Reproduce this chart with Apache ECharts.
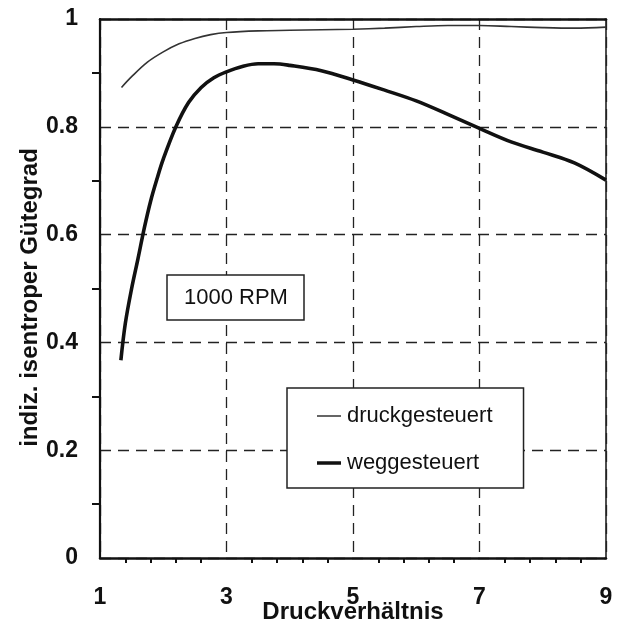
<!DOCTYPE html>
<html>
<head>
<meta charset="utf-8">
<script src="https://cdn.jsdelivr.net/npm/echarts@6/dist/echarts.min.js"></script>
<style>
html,body{margin:0;padding:0;background:#fff;overflow:hidden;}
#c{width:621px;height:633px;}
</style>
</head>
<body>
<div id="c"></div>
<script>
var druckX = [1.34, 1.5, 1.75, 2.0, 2.25, 2.5, 2.75, 3.0, 3.5, 4.0, 4.5, 5.0, 5.5, 6.0, 6.5, 7.0, 7.5, 8.0, 8.5, 9.0];
var druckY = [0.873, 0.893, 0.920, 0.939, 0.954, 0.964, 0.971, 0.975, 0.978, 0.979, 0.980, 0.981, 0.983, 0.986, 0.988, 0.988, 0.986, 0.984, 0.983, 0.985];
var wegX = [1.33, 1.4, 1.5, 1.6, 1.7, 1.8, 1.9, 2.0, 2.2, 2.4, 2.6, 2.8, 3.0, 3.25, 3.5, 3.75, 4.0, 4.5, 5.0, 5.5, 6.0, 6.5, 7.0, 7.5, 8.0, 8.5, 9.0];
var wegY = [0.367, 0.435, 0.50, 0.555, 0.612, 0.662, 0.703, 0.740, 0.800, 0.845, 0.873, 0.891, 0.902, 0.912, 0.917, 0.917, 0.914, 0.904, 0.887, 0.868, 0.848, 0.823, 0.797, 0.772, 0.753, 0.733, 0.701];
var seriesNames = ['druckgesteuert', 'weggesteuert'];
var xTicks = [1, 3, 5, 7, 9];
var yTicks = [0, 0.2, 0.4, 0.6, 0.8, 1];
var annotation = '1000 RPM';
var xName = 'Druckverhältnis';
var yName = 'indiz. isentroper Gütegrad';

function zip(a, b) { return a.map(function (v, i) { return [v, b[i]]; }); }

var el = document.getElementById('c');
var chart = echarts.init(el, null, {renderer: 'canvas'});
var FONT = 'Liberation Sans, Arial, sans-serif';
var dash = [11, 7];
function lineIcon(t) {
  var y0 = 7 - t / 2;
  return 'path://M0,0 L0.01,0 M24,14 L24.01,14 M0,' + y0 + ' h24 v' + t + ' h-24 z';
}
chart.setOption({
  backgroundColor: '#fff',
  animation: false,
  grid: {left: 100, right: 15, top: 19, bottom: 75, containLabel: false, outerBoundsMode: 'none'},
  title: {
    text: annotation,
    left: 167, top: 275,
    padding: [12, 16, 11, 17],
    backgroundColor: '#fff',
    borderColor: '#222', borderWidth: 1.5,
    textStyle: {fontFamily: FONT, fontWeight: 'normal', fontSize: 22, color: '#111'}
  },
  legend: {
    data: [
      {name: seriesNames[0], icon: lineIcon(1.6)},
      {name: seriesNames[1], icon: lineIcon(3.6)}
    ],
    orient: 'vertical',
    left: 287, top: 388,
    padding: [17, 31, 14, 30],
    itemGap: 25,
    itemWidth: 24, itemHeight: 14,
    backgroundColor: '#fff',
    borderColor: '#222', borderWidth: 1.5,
    itemStyle: {borderWidth: 0},
    textStyle: {fontFamily: FONT, fontSize: 22, color: '#111', padding: [0, 0, 0, 1]}
  },
  xAxis: [{
    type: 'value', min: 1, max: 9, interval: 2,
    name: xName, nameLocation: 'middle', nameGap: 42, nameMoveOverlap: false,
    nameTextStyle: {fontFamily: FONT, fontWeight: 'bold', fontSize: 24, color: '#111'},
    axisLine: {show: true, onZero: false, lineStyle: {color: '#111', width: 2.5}},
    axisTick: {show: false},
    minorTick: {show: true, splitNumber: 5, length: 5, lineStyle: {color: '#111', width: 2}},
    axisLabel: {margin: 28, fontFamily: FONT, fontWeight: 'bold', fontSize: 23, color: '#111',
      formatter: function (v) { return xTicks.indexOf(v) >= 0 ? String(v) : ''; }},
    splitLine: {show: true, lineStyle: {color: '#222', width: 1.3, type: dash}}
  }, {
    type: 'value', min: 1, max: 9, position: 'top',
    axisLine: {show: true, onZero: false, lineStyle: {color: '#111', width: 2.5}},
    axisTick: {show: false}, axisLabel: {show: false}, splitLine: {show: false}
  }],
  yAxis: [{
    type: 'value', min: 0, max: 1, interval: 0.2,
    name: yName, nameLocation: 'middle', nameGap: 58, nameMoveOverlap: false,
    nameTextStyle: {fontFamily: FONT, fontWeight: 'bold', fontSize: 24, color: '#111', padding: [0, 18, 0, 0]},
    axisLine: {show: true, onZero: false, lineStyle: {color: '#111', width: 2.2}},
    axisTick: {show: false},
    minorTick: {show: true, splitNumber: 2, length: 8, lineStyle: {color: '#111', width: 2}},
    axisLabel: {margin: 22, fontFamily: FONT, fontWeight: 'bold', fontSize: 23, color: '#111',
      formatter: function (v) { var r = Math.round(v * 10) / 10; return yTicks.indexOf(r) >= 0 ? String(r) : ''; }},
    splitLine: {show: true, lineStyle: {color: '#222', width: 1.3, type: dash}}
  }, {
    type: 'value', min: 0, max: 1, position: 'right',
    axisLine: {show: true, onZero: false, lineStyle: {color: '#222', width: 1.6}},
    axisTick: {show: false}, axisLabel: {show: false}, splitLine: {show: false}
  }],
  series: [{
    name: seriesNames[0], type: 'line', smooth: 0.35, symbol: 'none',
    data: zip(druckX, druckY),
    lineStyle: {color: '#333', width: 1.6}, itemStyle: {color: '#333'}
  }, {
    name: seriesNames[1], type: 'line', smooth: 0.35, symbol: 'none',
    data: zip(wegX, wegY),
    lineStyle: {color: '#111', width: 3.6}, itemStyle: {color: '#111'}
  }]
});
</script>
</body>
</html>
